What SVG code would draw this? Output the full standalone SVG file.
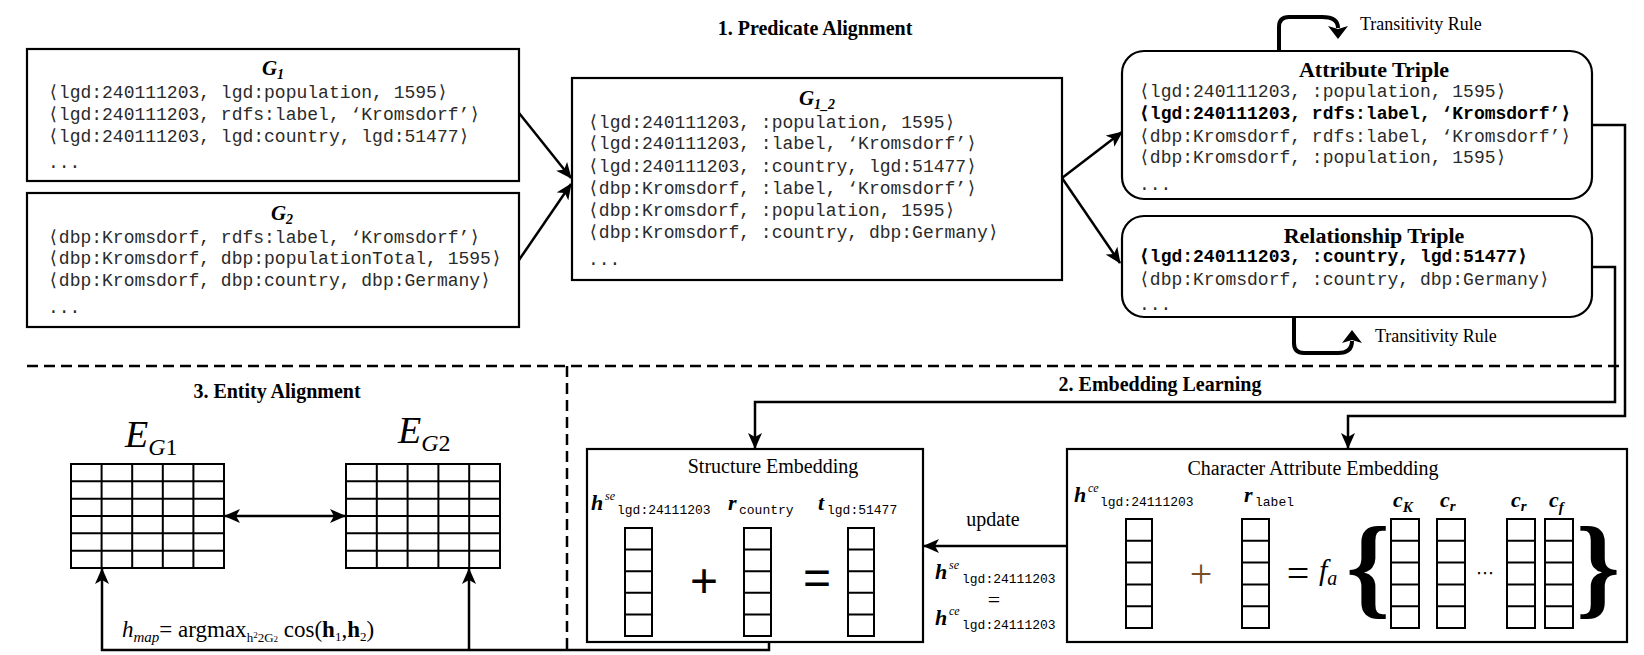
<svg xmlns="http://www.w3.org/2000/svg" width="1644" height="655" viewBox="0 0 1644 655">
<style>
.box{fill:#fff;stroke:#000;stroke-width:2.2}
.mono{font-family:"Liberation Mono","DejaVu Sans Mono",monospace;font-size:18px;fill:#2a2a2a}
.bold{font-weight:bold;fill:#000}
.ser{font-family:"Liberation Serif","DejaVu Serif",serif;fill:#000}
.head{font-family:"Liberation Serif","DejaVu Serif",serif;font-weight:bold;font-size:20px;fill:#000}
.title{font-family:"Liberation Serif","DejaVu Serif",serif;font-weight:bold;font-size:22px;fill:#000}
.gl{font-family:"Liberation Serif","DejaVu Serif",serif;font-weight:bold;font-style:italic;font-size:21px}
.tr{font-family:"Liberation Serif","DejaVu Serif",serif;font-size:18px;fill:#000}
.conn{fill:none;stroke:#000;stroke-width:2.5}
.loop{fill:none;stroke:#000;stroke-width:4}
.dash{fill:none;stroke:#000;stroke-width:2.5;stroke-dasharray:11 6}
.grid{fill:#fff;stroke:#000;stroke-width:2}
.gline{fill:none;stroke:#000;stroke-width:2}
.sub{font-family:"Liberation Mono","DejaVu Sans Mono",monospace;font-size:13px;fill:#000}
.mb{font-family:"Liberation Serif","DejaVu Serif",serif;font-weight:bold;font-style:italic;font-size:22px;fill:#000}
.sup{font-family:"Liberation Serif","DejaVu Serif",serif;font-style:italic;font-size:12px;fill:#000}
.emb{font-family:"Liberation Serif","DejaVu Serif",serif;font-size:20px;fill:#000}
</style>
<defs>
<marker id="arr" viewBox="0 -7 16 14" refX="15" refY="0" markerWidth="16" markerHeight="14" markerUnits="userSpaceOnUse" orient="auto-start-reverse"><path d="M0,-7 L16,0 L0,7 L4,0 z" fill="#000"/></marker>
<marker id="tarr" viewBox="0 -10 13 20" refX="2" refY="0" markerWidth="13" markerHeight="20" markerUnits="userSpaceOnUse" orient="auto"><path d="M0,-10 L13,0 L0,10 L3,0 z" fill="#000"/></marker>
</defs>
<rect width="1644" height="655" fill="#fff"/>

<!-- section headings -->
<text class="head" x="815" y="35" text-anchor="middle">1. Predicate Alignment</text>
<text class="head" x="1160" y="391" text-anchor="middle">2. Embedding Learning</text>
<text class="head" x="277" y="398" text-anchor="middle">3. Entity Alignment</text>

<!-- dashed separators -->
<g id="separators">
<path class="dash" d="M27,366 H1623"/>
<path class="dash" d="M567,366 V652"/>
</g>

<g id="g1">
<rect class="box" x="27" y="49" width="492" height="132"/>
<text class="gl" x="273" y="75" text-anchor="middle">G<tspan font-size="14" dy="4">1</tspan></text>
<text class="mono" x="48" y="98">⟨lgd:240111203, lgd:population, 1595⟩</text>
<text class="mono" x="48" y="120">⟨lgd:240111203, rdfs:label, ‘Kromsdorf’⟩</text>
<text class="mono" x="48" y="142">⟨lgd:240111203, lgd:country, lgd:51477⟩</text>
<text class="mono" x="48" y="168">...</text>
</g>

<g id="g2">
<rect class="box" x="27" y="193" width="492" height="134"/>
<text class="gl" x="282" y="220" text-anchor="middle">G<tspan font-size="14" dy="4">2</tspan></text>
<text class="mono" x="48" y="243">⟨dbp:Kromsdorf, rdfs:label, ‘Kromsdorf’⟩</text>
<text class="mono" x="48" y="264">⟨dbp:Kromsdorf, dbp:populationTotal, 1595⟩</text>
<text class="mono" x="48" y="286">⟨dbp:Kromsdorf, dbp:country, dbp:Germany⟩</text>
<text class="mono" x="48" y="313">...</text>
</g>

<g id="g12">
<rect class="box" x="572" y="78" width="490" height="202"/>
<text class="gl" x="817" y="105" text-anchor="middle">G<tspan font-size="14" dy="4">1_2</tspan></text>
<text class="mono" x="588" y="128">⟨lgd:240111203, :population, 1595⟩</text>
<text class="mono" x="588" y="149">⟨lgd:240111203, :label, ‘Kromsdorf’⟩</text>
<text class="mono" x="588" y="172">⟨lgd:240111203, :country, lgd:51477⟩</text>
<text class="mono" x="588" y="194">⟨dbp:Kromsdorf, :label, ‘Kromsdorf’⟩</text>
<text class="mono" x="588" y="216">⟨dbp:Kromsdorf, :population, 1595⟩</text>
<text class="mono" x="588" y="238">⟨dbp:Kromsdorf, :country, dbp:Germany⟩</text>
<text class="mono" x="588" y="265">...</text>
</g>

<g id="attr">
<rect class="box" x="1122" y="51" width="470" height="148" rx="22" ry="22" stroke-width="2.5"/>
<text class="title" x="1374" y="77" text-anchor="middle">Attribute Triple</text>
<text class="mono" x="1139" y="97">⟨lgd:240111203, :population, 1595⟩</text>
<text class="mono bold" x="1139" y="119">⟨lgd:240111203, rdfs:label, ‘Kromsdorf’⟩</text>
<text class="mono" x="1139" y="142">⟨dbp:Kromsdorf, rdfs:label, ‘Kromsdorf’⟩</text>
<text class="mono" x="1139" y="163">⟨dbp:Kromsdorf, :population, 1595⟩</text>
<text class="mono" x="1139" y="190">...</text>
</g>

<g id="rel">
<rect class="box" x="1122" y="216" width="470" height="101" rx="22" ry="22" stroke-width="2.5"/>
<text class="title" x="1374" y="243" text-anchor="middle">Relationship Triple</text>
<text class="mono bold" x="1139" y="262">⟨lgd:240111203, :country, lgd:51477⟩</text>
<text class="mono" x="1139" y="285">⟨dbp:Kromsdorf, :country, dbp:Germany⟩</text>
<text class="mono" x="1139" y="310">...</text>
</g>

<g id="rule-top">
<path class="loop" d="M1279,51 V27 Q1279,17 1289,17 H1322 Q1338,17 1338,28" marker-end="url(#tarr)"/>
<text class="tr" x="1360" y="30">Transitivity Rule</text>
</g>
<g id="rule-bottom">
<path class="loop" d="M1294,317 V343 Q1294,353 1304,353 H1338 Q1352,353 1352,341" marker-end="url(#tarr)"/>
<text class="tr" x="1375" y="342">Transitivity Rule</text>
</g>

<g id="struct">
<rect class="box" x="587" y="449" width="336" height="193"/>
<text class="emb" x="773" y="473" text-anchor="middle">Structure Embedding</text>
<text class="mb" x="591" y="510">h</text><text class="sup" x="605" y="500">se</text><text class="sub" x="617" y="514">lgd:24111203</text>
<text class="mb" x="728" y="510">r</text><text class="sub" x="739" y="514">country</text>
<text class="mb" x="818" y="510">t</text><text class="sub" x="827" y="514">lgd:51477</text>
<rect class="grid" x="625" y="528" width="27" height="108"/>
<path class="gline" d="M625,549.6 H652 M625,571.2 H652 M625,592.8 H652 M625,614.4 H652"/>
<rect class="grid" x="744" y="528" width="27" height="108"/>
<path class="gline" d="M744,549.6 H771 M744,571.2 H771 M744,592.8 H771 M744,614.4 H771"/>
<rect class="grid" x="848" y="528" width="26" height="108"/>
<path class="gline" d="M848,549.6 H874 M848,571.2 H874 M848,592.8 H874 M848,614.4 H874"/>
<text x="704" y="597" text-anchor="middle" font-family="Liberation Sans, Arial, sans-serif" font-size="48">+</text>
<text x="817" y="594" text-anchor="middle" font-family="Liberation Sans, Arial, sans-serif" font-size="48">=</text>
</g>

<g id="charattr">
<rect class="box" x="1067" y="449" width="560" height="193"/>
<text class="emb" x="1313" y="475" text-anchor="middle">Character Attribute Embedding</text>
<text class="mb" x="1074" y="502">h</text><text class="sup" x="1088" y="492">ce</text><text class="sub" x="1100" y="506">lgd:24111203</text>
<text class="mb" x="1244" y="502">r</text><text class="sub" x="1255" y="506">label</text>
<text class="mb" x="1393" y="507">c<tspan font-size="15" dy="5">K</tspan></text>
<text class="mb" x="1440" y="507">c<tspan font-size="15" dy="4">r</tspan></text>
<text class="mb" x="1511" y="507">c<tspan font-size="15" dy="4">r</tspan></text>
<text class="mb" x="1549" y="507">c<tspan font-size="15" dy="5">f</tspan></text>
<rect class="grid" x="1126" y="519" width="26" height="109"/>
<path class="gline" d="M1126,540.8 H1152 M1126,562.6 H1152 M1126,584.4 H1152 M1126,606.2 H1152"/>
<rect class="grid" x="1242" y="519" width="27" height="109"/>
<path class="gline" d="M1242,540.8 H1269 M1242,562.6 H1269 M1242,584.4 H1269 M1242,606.2 H1269"/>
<rect class="grid" x="1391" y="519" width="28" height="109"/>
<path class="gline" d="M1391,540.8 H1419 M1391,562.6 H1419 M1391,584.4 H1419 M1391,606.2 H1419"/>
<rect class="grid" x="1437" y="519" width="28" height="109"/>
<path class="gline" d="M1437,540.8 H1465 M1437,562.6 H1465 M1437,584.4 H1465 M1437,606.2 H1465"/>
<rect class="grid" x="1507" y="519" width="28" height="109"/>
<path class="gline" d="M1507,540.8 H1535 M1507,562.6 H1535 M1507,584.4 H1535 M1507,606.2 H1535"/>
<rect class="grid" x="1545" y="519" width="28" height="109"/>
<path class="gline" d="M1545,540.8 H1573 M1545,562.6 H1573 M1545,584.4 H1573 M1545,606.2 H1573"/>
<text x="1201" y="587" text-anchor="middle" class="ser" font-size="40" style="fill:#7b4f26">+</text>
<text x="1298" y="587" text-anchor="middle" class="ser" font-size="40">=</text>
<text class="ser" x="1319" y="580" font-style="italic" font-size="30">f<tspan font-size="20" dy="5">a</tspan></text>
<text class="ser" x="1346" y="604" font-weight="bold" font-size="112">{</text>
<text x="1485" y="579" text-anchor="middle" font-family="DejaVu Sans, sans-serif" font-size="18">⋯</text>
<text class="ser" x="1576" y="604" font-weight="bold" font-size="112">}</text>
</g>

<g id="update-label">
<text class="emb" x="993" y="526" text-anchor="middle">update</text>
<text class="mb" x="935" y="579">h</text><text class="sup" x="949" y="569">se</text><text class="sub" x="962" y="583">lgd:24111203</text>
<text class="ser" x="994" y="607" text-anchor="middle" font-size="22">=</text>
<text class="mb" x="935" y="625">h</text><text class="sup" x="949" y="615">ce</text><text class="sub" x="962" y="629">lgd:24111203</text>
</g>

<g id="eg1">
<text class="ser" x="125" y="447" font-style="italic" font-size="38">E<tspan font-size="24" dy="8">G</tspan><tspan font-style="normal" font-size="24">1</tspan></text>
<rect class="grid" x="71" y="464" width="153" height="104"/>
<path class="gline" d="M101.6,464 V568 M132.2,464 V568 M162.8,464 V568 M193.4,464 V568 M71,481.3 H224 M71,498.7 H224 M71,516 H224 M71,533.3 H224 M71,550.7 H224"/>
</g>

<g id="eg2">
<text class="ser" x="398" y="443" font-style="italic" font-size="38">E<tspan font-size="24" dy="8">G</tspan><tspan font-style="normal" font-size="24">2</tspan></text>
<rect class="grid" x="346" y="464" width="154" height="104"/>
<path class="gline" d="M376.8,464 V568 M407.6,464 V568 M438.4,464 V568 M469.2,464 V568 M346,481.3 H500 M346,498.7 H500 M346,516 H500 M346,533.3 H500 M346,550.7 H500"/>
</g>

<g id="formula">
<text class="ser" x="122" y="637" font-size="23"><tspan font-style="italic">h</tspan><tspan font-style="italic" font-size="15" dy="5">map</tspan><tspan dy="-5">= argmax</tspan><tspan font-size="13" dy="5">h</tspan><tspan font-size="9" dy="-4">2</tspan><tspan font-size="13" dy="4">2G</tspan><tspan font-size="9">2</tspan><tspan dy="-5"> cos(</tspan><tspan font-weight="bold">h</tspan><tspan font-size="13" dy="4">1</tspan><tspan dy="-4">,</tspan><tspan font-weight="bold">h</tspan><tspan font-size="13" dy="4">2</tspan><tspan dy="-4">)</tspan></text>
</g>

<g id="connectors">
<path class="conn" d="M519,113 L571,178" marker-end="url(#arr)"/>
<path class="conn" d="M519,260 L571,184" marker-end="url(#arr)"/>
<path class="conn" d="M1062,178 L1122,132" marker-end="url(#arr)"/>
<path class="conn" d="M1062,178 L1120,263" marker-end="url(#arr)"/>
<path class="conn" d="M1592,125 H1625 V416 H1348 V448" marker-end="url(#arr)"/>
<path class="conn" d="M1592,267 H1615 V402 H755 V448" marker-end="url(#arr)"/>
<path class="conn" d="M1066,546 H924" marker-end="url(#arr)"/>
<path class="conn" d="M769,642 V650 H102 V569" marker-end="url(#arr)"/>
<path class="conn" d="M469,650 V569" marker-end="url(#arr)"/>
<path class="conn" d="M225,516 H345" marker-start="url(#arr)" marker-end="url(#arr)"/>
</g>
</svg>
